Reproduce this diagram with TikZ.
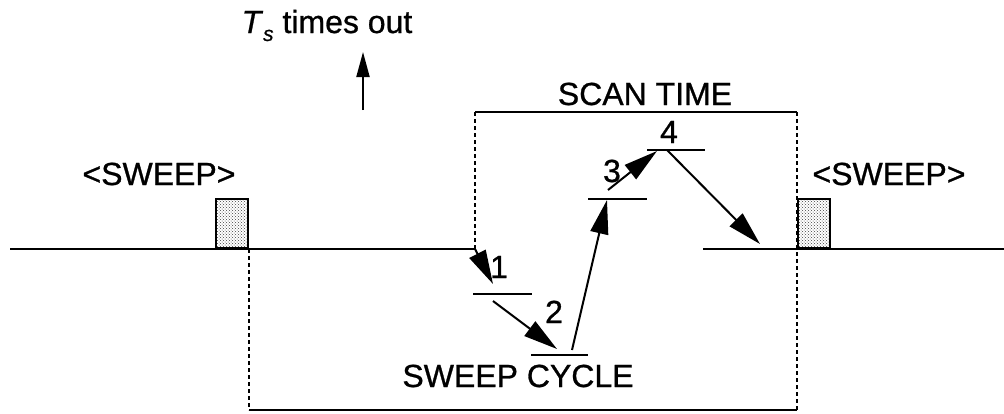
\documentclass[tikz,border=0pt]{standalone}
\usepackage{fontspec}
\setmainfont{Liberation Sans}[BoldFont={Liberation Sans}, BoldItalicFont={Liberation Sans Italic}, BoldFeatures={FakeBold=0.8}, BoldItalicFeatures={FakeBold=0.8}]
\usetikzlibrary{arrows.meta,patterns}
\begin{document}
\begin{tikzpicture}[x=1pt,y=-1pt,
  solidline/.style={line width=2pt},
  dashline/.style={line width=1.3pt, dash pattern=on 4pt off 3pt},
  flow/.style={line width=2pt, -{Triangle[length=34pt,width=18pt]}},
  lbl/.style={font=\fontsize{32}{36}\selectfont\bfseries, anchor=base, inner sep=0pt},
  sweepbox/.style={draw, line width=2pt, pattern=crosshatch dots, pattern color=black!75, minimum width=32pt, minimum height=49pt, inner sep=0pt, anchor=south east}]
\useasboundingbox (0,0) rectangle (1004,413);
% frame coordinates
\coordinate (bl0) at (10,249);
\coordinate (c1) at (475,249);
\coordinate (st) at (475,112);
\coordinate (se) at (797,112);
\coordinate (sb) at (797,410);
\coordinate (bb) at (249,410);
\coordinate (bt) at (249,249);
\coordinate (br0) at (703,249);
\coordinate (br1) at (1004,249);
% levels
\coordinate (l1a) at (473,294); \coordinate (l1b) at (532,294);
\coordinate (l2a) at (531,355); \coordinate (l2b) at (588,355);
\coordinate (l3a) at (588,199); \coordinate (l3b) at (647,199);
\coordinate (l4a) at (647,150); \coordinate (l4b) at (705,150);
% arrow ends
\coordinate (a1e) at (493,284);
\coordinate (a2s) at (493,301); \coordinate (a2e) at (557,349);
\coordinate (a3s) at (572,350); \coordinate (a3e) at (607,200);
\coordinate (a4s) at (608,190); \coordinate (a4e) at (657,151);
\coordinate (a5s) at (667,150); \coordinate (a5e) at (760,244);
\coordinate (upA) at (363,110); \coordinate (upB) at (363,52);

% baselines
\draw[solidline] (bl0) -- (c1);
\draw[solidline] (br0) -- (br1);
% scan time bracket
\draw[solidline] (st) -- (se);
\draw[dashline] (st) -- (c1);
\draw[dashline] (se) -- (sb);
% sweep cycle bracket
\draw[dashline] (bt) -- (bb);
\draw[solidline] (bb) -- (sb);
% sweep boxes
\node[sweepbox] (boxL) at (249,249) {};
\node[sweepbox, anchor=south west] (boxR) at (797,249) {};
% levels
\draw[solidline] (l1a) -- (l1b);
\draw[solidline] (l2a) -- (l2b);
\draw[solidline] (l3a) -- (l3b);
\draw[solidline] (l4a) -- (l4b);
% arrows
\draw[flow] (c1) -- (a1e);
\draw[flow] (a2s) -- (a2e);
\draw[flow] (a3s) -- (a3e);
\draw[flow] (a4s) -- (a4e);
\draw[flow] (a5s) -- (a5e);
\draw[line width=2pt, -{Triangle[length=25pt,width=13pt]}] (upA) -- (upB);
% labels
\node[lbl] (n1) at (499,278) {1};
\node[lbl] (n2) at (554,323) {2};
\node[lbl] (n3) at (612,182) {3};
\node[lbl] (n4) at (669,143) {4};
\node[lbl] (scan) at (645,105) {SCAN TIME};
\node[lbl] (cycle) at (518,387) {SWEEP CYCLE};
\node[lbl] (swL) at (159,185) {<SWEEP>};
\node[lbl] (swR) at (889,185) {<SWEEP>};
\node[lbl] (ts) at (327,33) {\textit{T}\raisebox{-0.25em}{\fontsize{21}{21}\selectfont\textit{s}} times out};
\end{tikzpicture}
\end{document}
